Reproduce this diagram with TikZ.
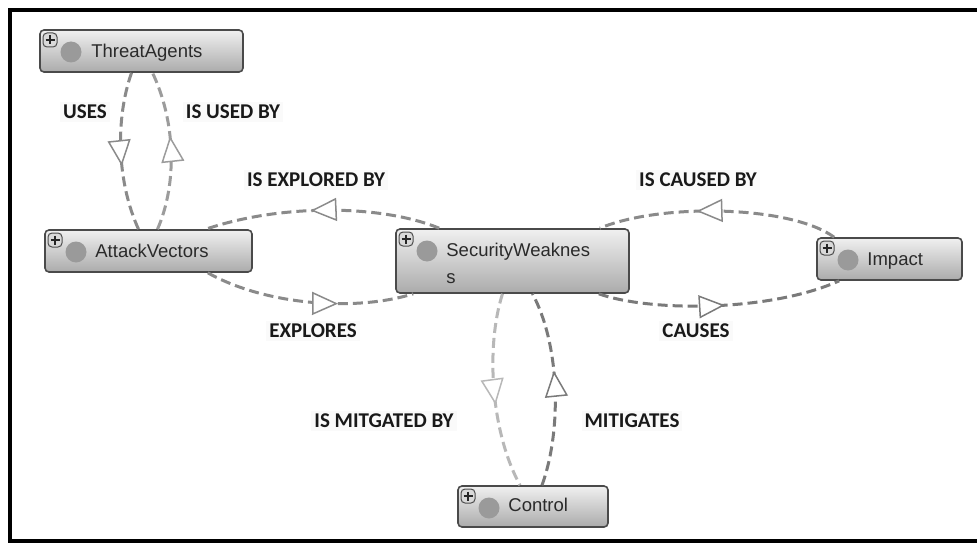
\documentclass[tikz,border=0pt]{standalone}
\usepackage{fontspec}
\setmainfont{Liberation Sans}
\newfontfamily\lblfont{Carlito}
\usetikzlibrary{calc,arrows.meta,decorations.markings}
\definecolor{edgegray}{HTML}{8A8A8A}
\definecolor{edgelight}{HTML}{B8B8B8}
\definecolor{edgedark}{HTML}{7A7A7A}
\definecolor{boxborder}{HTML}{4A4A4A}
\definecolor{boxtop}{HTML}{F0F0F0}
\definecolor{boxbot}{HTML}{ABABAB}
\definecolor{dotgray}{HTML}{9A9A9A}
\definecolor{txtgray}{HTML}{2A2A2A}
\definecolor{lblbg}{HTML}{FAFAFA}
\tikzset{
  nodebox/.style={draw=boxborder, line width=1.6pt, rounded corners=4pt,
    top color=boxtop, bottom color=boxbot, inner sep=0pt,
    path picture={
      \coordinate (pp) at (path picture bounding box.north west);
      \fill[dotgray] ($(pp)+(31,22)$) circle (10.5pt);
      \draw[draw=black!70, fill=black!15, line width=1pt] ($(pp)+(3,3)$) rectangle ($(pp)+(17,17)$);
      \draw[black!85, line width=1.6pt] ($(pp)+(5.5,10)$) -- ($(pp)+(14.5,10)$);
      \draw[black!85, line width=1.6pt] ($(pp)+(10,5.5)$) -- ($(pp)+(10,14.5)$);
    }},
  boxtext/.style={anchor=north west, inner sep=0pt, text=txtgray, align=left,
    font=\fontsize{18.5}{27}\selectfont},
  lbl/.style={text=black!90, fill=lblbg, inner sep=3pt, font=\lblfont\bfseries\fontsize{21}{24}\selectfont},
  rel/.style={dash pattern=on 10pt off 5pt, line width=3pt},
  midtri/.style={postaction={decorate, decoration={markings,
    mark=at position #1 with {\arrow{Triangle[length=26pt,width=23pt,fill=white,line width=1.5pt]}}}}}
}
\begin{document}
\begin{tikzpicture}[x=1pt,y=-1pt]
\useasboundingbox (0,0) rectangle (977,543);
\fill[white] (0,0) rectangle (977,543);
\draw[line width=4pt] (977,10) -- (10,10) -- (10,541) -- (977,541);

% nodes
\node[nodebox, minimum width=203pt, minimum height=42pt] (ta) at (141.5,51) {};
\node[nodebox, minimum width=207pt, minimum height=42pt] (av) at (148.5,251) {};
\node[nodebox, minimum width=233pt, minimum height=64pt] (sw) at (512.5,261) {};
\node[nodebox, minimum width=145pt, minimum height=42pt] (imp) at (889.5,259) {};
\node[nodebox, minimum width=150pt, minimum height=41pt] (ctl) at (533,506.5) {};

\node[boxtext] (tat) at ($(ta.north west)+(52,15)$) {ThreatAgents};
\node[boxtext] (avt) at ($(av.north west)+(51,15)$) {AttackVectors};
\node[boxtext] (swt) at ($(sw.north west)+(51,15)$) {SecurityWeaknes\\s};
\node[boxtext] (impt) at ($(imp.north west)+(51,15)$) {Impact};
\node[boxtext] (ctlt) at ($(ctl.north west)+(51,13)$) {Control};

% connectors
\draw[rel, edgegray, midtri=0.59] ($(ta.south)+(-10,0)$) .. controls (115,120) and (117,182) .. ($(av.north)+(-10,0)$);
\draw[rel, edgegray!85, midtri=0.59] ($(av.north)+(9,0)$) .. controls (178,182) and (175,120) .. ($(ta.south)+(11,0)$);

\draw[rel, edgegray, midtri=0.55] ($(sw.north west)+(44,0)$) .. controls (380,204) and (280,204) .. ($(av.north east)+(-47,0)$);
\draw[rel, edgegray, midtri=0.64] ($(av.south east)+(-45,0)$) .. controls (265,305) and (355,312) .. ($(sw.south west)+(18,0)$);

\draw[rel, edgegray, midtri=0.59] ($(imp.north west)+(18,0)$) .. controls (790,205) and (660,203) .. ($(sw.north east)+(-30,0)$);
\draw[rel, edgedark, midtri=0.52] ($(sw.south east)+(-31,0)$) .. controls (650,312) and (770,312) .. ($(imp.south west)+(23,0)$);

\draw[rel, edgelight, midtri=0.57] ($(sw.south)+(-10,0)$) .. controls (486,345) and (490,430) .. ($(ctl.north)+(-13,0)$);
\draw[rel, edgedark, midtri=0.59] ($(ctl.north)+(9,0)$) .. controls (562,430) and (560,345) .. ($(sw.south)+(20,0)$);

% labels
\node[lbl] (l1) at (85,112) {USES};
\node[lbl] (l2) at (233,112) {IS USED BY};
\node[lbl] (l3) at (316,180) {IS EXPLORED BY};
\node[lbl] (l4) at (698,180) {IS CAUSED BY};
\node[lbl] (l5) at (313,331) {EXPLORES};
\node[lbl] (l6) at (696,331) {CAUSES};
\node[lbl] (l7) at (384,421) {IS MITGATED BY};
\node[lbl] (l8) at (632,421) {MITIGATES};
\end{tikzpicture}
\end{document}
